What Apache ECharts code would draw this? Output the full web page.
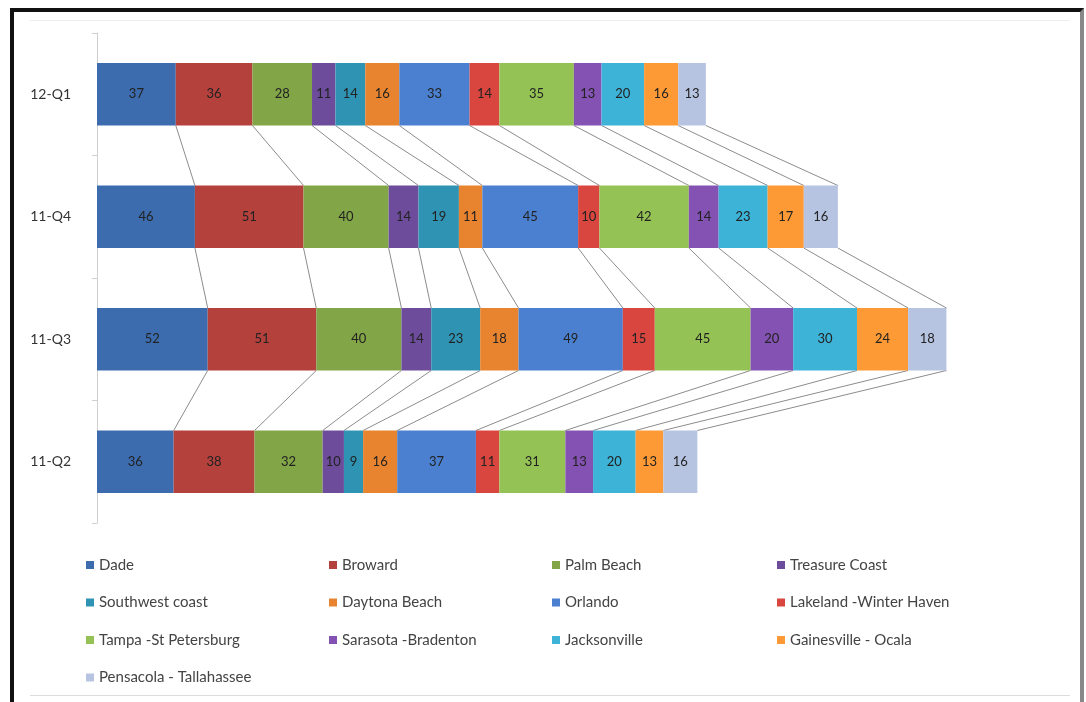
<!DOCTYPE html>
<html>
<head>
<meta charset="utf-8">
<script src="https://cdn.jsdelivr.net/npm/echarts@6/dist/echarts.min.js"></script>
<style>
  html, body { margin: 0; padding: 0; background: #fff; }
  #main { width: 1086px; height: 702px; position: relative; }
  .frame {
    position: absolute; left: 10px; top: 8px; width: 1066px; height: 700px;
    border-top: 4px solid #111; border-left: 4px solid #111; border-right: 4px solid #888;
    pointer-events: none; z-index: 5;
  }
  .inner {
    position: absolute; left: 30px; top: 20px; width: 1040px; height: 674px;
    border-top: 1px solid #eee; border-bottom: 1px solid #ddd;
    pointer-events: none; z-index: 5;
  }
</style>
</head>
<body>
<div id="main"></div>
<div class="frame"></div>
<div class="inner"></div>
<script>
// quarters, bottom to top
const quarters = ['11-Q2', '11-Q3', '11-Q4', '12-Q1'];

const regions = ['Dade', 'Broward', 'Palm Beach', 'Treasure Coast', 'Southwest coast',
  'Daytona Beach', 'Orlando', 'Lakeland -Winter Haven', 'Tampa -St Petersburg',
  'Sarasota -Bradenton', 'Jacksonville', 'Gainesville - Ocala', 'Pensacola - Tallahassee'];

const colors = ['#3c6cae', '#b5413d', '#82a547', '#6d4c9c', '#2f93b3', '#e8842f',
  '#4a80cf', '#d9453f', '#95c255', '#8452b2', '#3db3d8', '#fd9a35', '#b6c4e1'];

// one array per region: 11-Q2, 11-Q3, 11-Q4, 12-Q1
const dade        = [36, 52, 46, 37];
const broward     = [38, 51, 51, 36];
const palmBeach   = [32, 40, 40, 28];
const treasure    = [10, 14, 14, 11];
const southwest   = [9, 23, 19, 14];
const daytona     = [16, 18, 11, 16];
const orlando     = [37, 49, 45, 33];
const lakeland    = [11, 15, 10, 14];
const tampa       = [31, 45, 42, 35];
const sarasota    = [13, 20, 14, 13];
const jacksonville = [20, 30, 23, 20];
const gainesville = [13, 24, 17, 16];
const pensacola   = [16, 18, 16, 13];

const values = [dade, broward, palmBeach, treasure, southwest, daytona, orlando,
  lakeland, tampa, sarasota, jacksonville, gainesville, pensacola];

const BAR_RATIO = 0.51;

// cumulative right edge of each segment, per quarter
function cumAt(q, k) {
  let s = 0;
  for (let j = 0; j <= k; j++) s += values[j][q];
  return s;
}
const connectors = [];
for (let q = 0; q < quarters.length - 1; q++) {
  for (let k = 0; k < regions.length; k++) {
    connectors.push([cumAt(q, k), q, cumAt(q + 1, k)]);
  }
}

const chart = echarts.init(document.getElementById('main'));

const barSeries = regions.map((name, k) => ({
  name: name,
  type: 'bar',
  stack: 'total',
  barCategoryGap: '49%',
  data: values[k],
  itemStyle: { color: colors[k] },
  label: {
    show: true,
    position: 'inside',
    color: '#222',
    fontFamily: 'Lato',
    fontSize: 13
  },
  z: 3
}));

const lineSeries = {
  type: 'custom',
  silent: true,
  z: 1,
  data: connectors,
  encode: { x: 0, y: 1 },
  renderItem: function (params, api) {
    const q = api.value(1);
    const band = api.size([0, 1])[1];
    const h = band * BAR_RATIO / 2;
    const p1 = api.coord([api.value(0), q]);
    const p2 = api.coord([api.value(2), q + 1]);
    return {
      type: 'line',
      shape: { x1: p1[0], y1: p1[1] - h, x2: p2[0], y2: p2[1] + h },
      style: { stroke: '#8c8c8c', lineWidth: 1 }
    };
  }
};

const legendCols = [
  { left: 86, data: [regions[0], regions[4], regions[8], regions[12]] },
  { left: 329, data: [regions[1], regions[5], regions[9]] },
  { left: 552, data: [regions[2], regions[6], regions[10]] },
  { left: 777, data: [regions[3], regions[7], regions[11]] }
];

chart.setOption({
  animation: false,
  color: colors,
  grid: { left: 97, top: 33, height: 490, right: 31 },
  xAxis: {
    type: 'value',
    min: 0,
    max: 450,
    show: false
  },
  yAxis: {
    type: 'category',
    data: quarters,
    axisLine: { show: true, lineStyle: { color: '#d0d0d0' } },
    axisTick: { show: true, length: 5, lineStyle: { color: '#d0d0d0' } },
    axisLabel: { color: '#333', fontFamily: 'Lato', fontSize: 14, margin: 26 }
  },
  legend: legendCols.map(c => ({
    orient: 'vertical',
    left: c.left,
    top: 557,
    padding: 0,
    itemGap: 21.5,
    itemWidth: 8,
    itemHeight: 8,
    icon: 'rect',
    data: c.data,
    textStyle: { color: '#444', fontFamily: 'Lato', fontSize: 15, lineHeight: 16 }
  })),
  series: barSeries.concat([lineSeries])
});
</script>
</body>
</html>
